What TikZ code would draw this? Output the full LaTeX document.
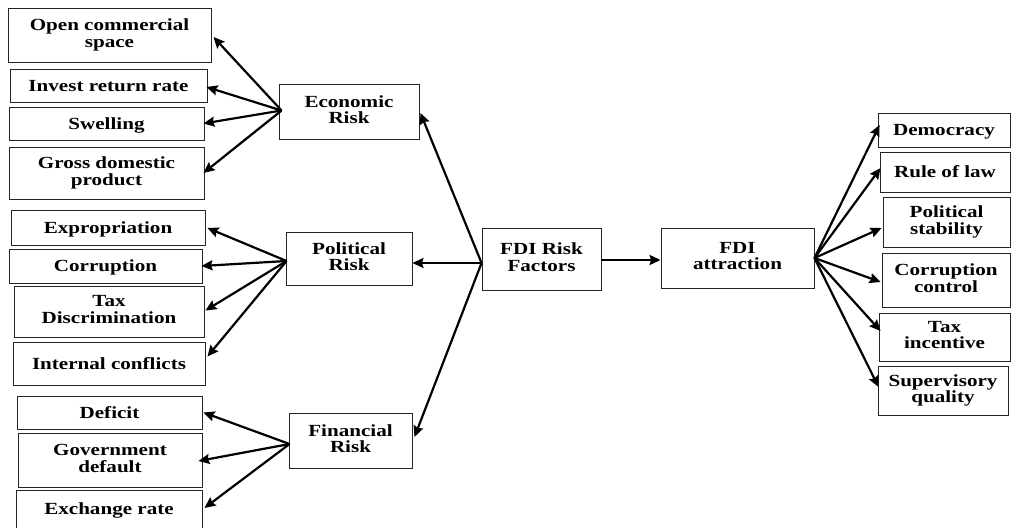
\documentclass[tikz,border=0pt]{standalone}
\usepackage{fontspec}
\setmainfont{Liberation Serif}[FakeStretch=1.24]
\usetikzlibrary{arrows.meta,calc}
\newcommand\mytopstrut{\rule{0pt}{0.89em}}
\newcommand\mybotstrut{\rule[-0.22em]{0pt}{0.22em}}
\begin{document}
\begin{tikzpicture}[x=1pt,y=-1pt,
  box/.style={draw=black!85, line width=0.9pt, inner sep=0pt, align=center,
    font=\fontsize{17}{16.5}\selectfont\bfseries,
    execute at begin node=\mytopstrut, execute at end node=\mybotstrut},
  conn/.style={line width=2.2pt, -{Stealth[length=11pt,width=10pt,inset=1.5pt]}}]
\useasboundingbox (0,0) rectangle (1011,527);
% left column
\node[box, minimum width=203pt, minimum height=54pt] (ocs) at (109.5,35) {Open commercial\\space};
\node[box, minimum width=197pt, minimum height=33pt] (irr) at (108.5,85.5) {Invest return rate};
\node[box, minimum width=195pt, minimum height=33pt] (swe) at (106.5,123.5) {Swelling};
\node[box, minimum width=195pt, minimum height=52pt] (gdp) at (106.5,173) {Gross domestic\\product};
\node[box, minimum width=194pt, minimum height=35pt] (exp) at (108,227.5) {Expropriation};
\node[box, minimum width=193pt, minimum height=34pt] (cor) at (105.5,266) {Corruption};
\node[box, minimum width=190pt, minimum height=51pt] (tax) at (109,311.5) {Tax\\Discrimination};
\node[box, minimum width=192pt, minimum height=43pt] (int) at (109,363.5) {Internal conflicts};
\node[box, minimum width=185pt, minimum height=33pt] (def) at (109.5,412.5) {Deficit};
\node[box, minimum width=184pt, minimum height=54pt] (gov) at (110,460) {Government\\default};
\node[box, minimum width=186pt, minimum height=38pt] (exr) at (109,509) {Exchange rate};
% risk categories
\node[box, minimum width=140pt, minimum height=55pt] (eco) at (349,111.5) {Economic\\Risk};
\node[box, minimum width=126pt, minimum height=53pt] (pol) at (349,258.5) {Political\\Risk};
\node[box, minimum width=123pt, minimum height=55pt] (fin) at (350.5,440.5) {Financial\\Risk};
% centre
\node[box, minimum width=119pt, minimum height=62pt] (fdi) at (541.5,259) {FDI Risk\\Factors};
\node[box, minimum width=153pt, minimum height=60pt] (att) at (737.5,258) {FDI\\attraction};
% right column
\node[box, minimum width=132pt, minimum height=34pt] (dem) at (944,130) {Democracy};
\node[box, minimum width=130pt, minimum height=40pt] (rol) at (945,172) {Rule of law};
\node[box, minimum width=127pt, minimum height=50pt] (pst) at (946.5,222) {Political\\stability};
\node[box, minimum width=128pt, minimum height=54pt] (cc) at (946,280) {Corruption\\control};
\node[box, minimum width=131pt, minimum height=48pt] (ti) at (944.5,337) {Tax\\incentive};
\node[box, minimum width=130pt, minimum height=49pt] (sq) at (943,390.5) {Supervisory\\quality};
% hubs
\coordinate (ehub) at ($(eco.west)+(3,-1)$);
\coordinate (phub) at ($(pol.west)+(1,2.5)$);
\coordinate (fhub) at ($(fin.west)+(1,3.5)$);
\coordinate (dhub) at ($(fdi.west)+(0,4)$);
\coordinate (ahub) at (att.east);
% economic
\draw[conn] (ehub) -- ($(ocs.east)+(2,2)$);
\draw[conn] (ehub) -- ($(irr.east)+(-1,1.5)$);
\draw[conn] (ehub) -- ($(swe.east)+(-1,0)$);
\draw[conn] (ehub) -- ($(gdp.east)+(-1,0)$);
% political
\draw[conn] (phub) -- ($(exp.east)+(2,0.5)$);
\draw[conn] (phub) -- ($(cor.east)+(-1,0)$);
\draw[conn] (phub) -- ($(tax.east)+(1,-1)$);
\draw[conn] (phub) -- ($(int.east)+(2,-7)$);
% financial
\draw[conn] (fhub) -- ($(def.east)+(1,0)$);
\draw[conn] (fhub) -- ($(gov.east)+(-4,1)$);
\draw[conn] (fhub) -- ($(exr.east)+(2,-1)$);
% centre
\draw[conn] (dhub) -- ($(eco.east)+(1,1.5)$);
\draw[conn] (dhub) -- (pol.east |- dhub);
\draw[conn] (dhub) -- ($(fin.east)+(2,-3.5)$);
\draw[conn] ($(fdi.east)+(0,1)$) -- ($(att.west)+(0,2)$);
% right
\draw[conn] (ahub) -- ($(dem.west)+(2,-5)$);
\draw[conn] (ahub) -- ($(rol.west)+(1,-4)$);
\draw[conn] (ahub) -- ($(pst.west)+(-1,6)$);
\draw[conn] (ahub) -- ($(cc.west)+(-1,2)$);
\draw[conn] (ahub) -- ($(ti.west)+(2,-6)$);
\draw[conn] (ahub) -- ($(sq.west)+(1,-3.5)$);
\end{tikzpicture}
\end{document}
